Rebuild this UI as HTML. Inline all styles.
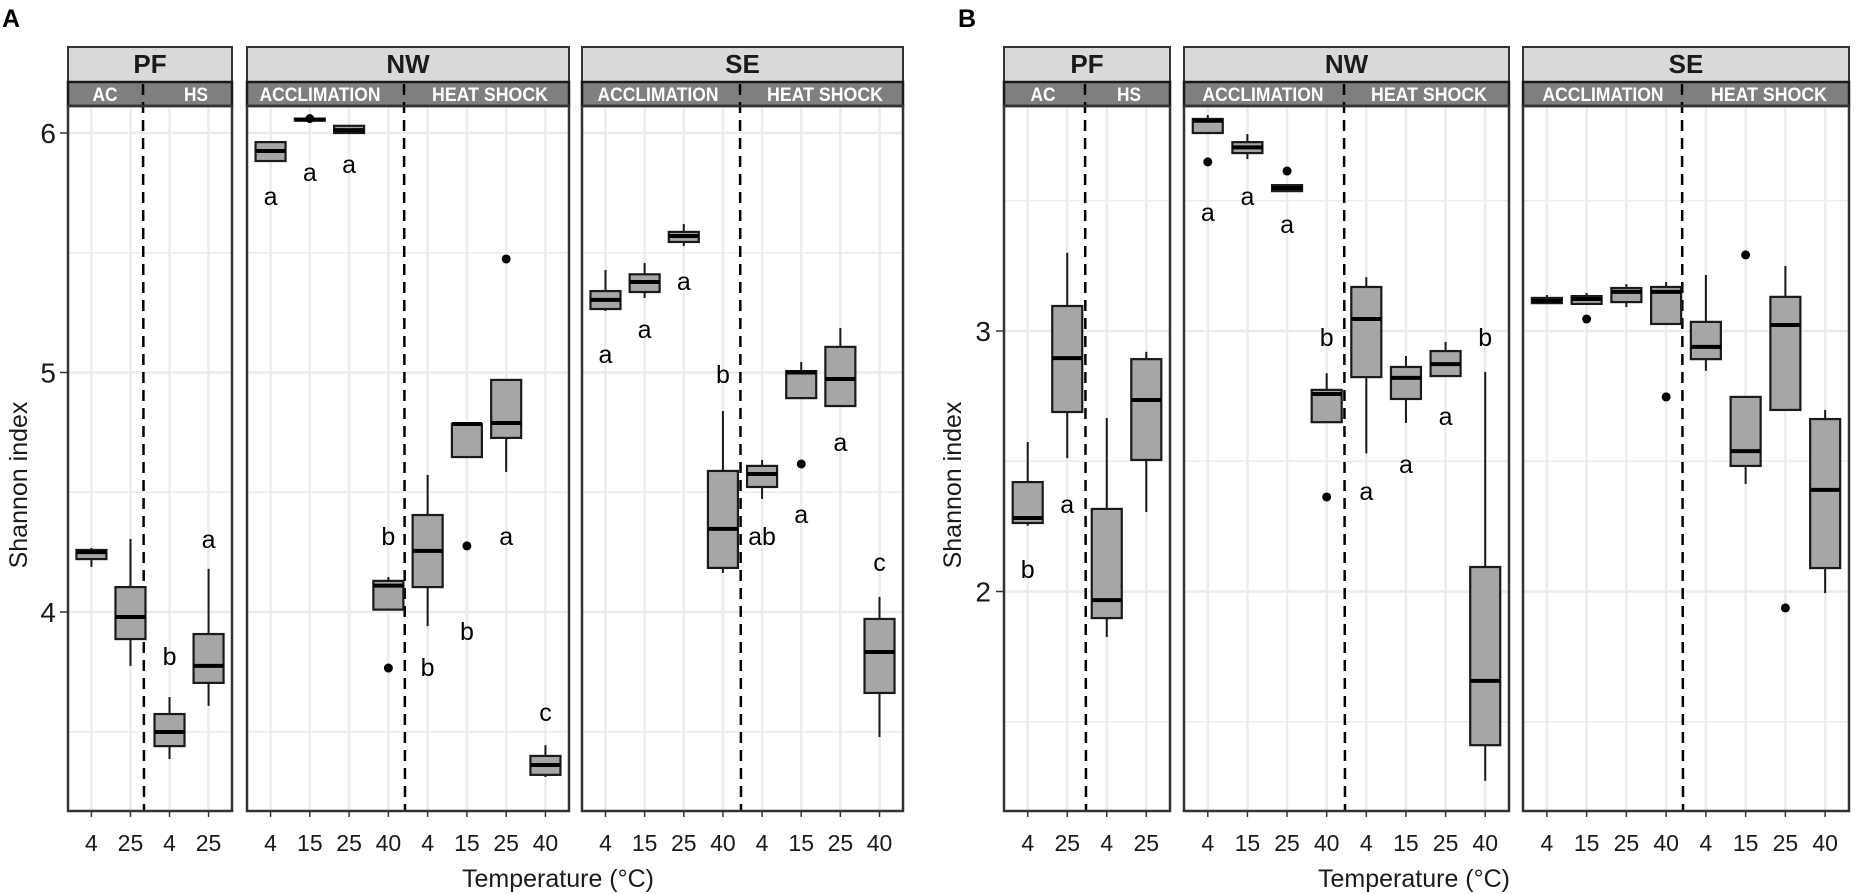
<!DOCTYPE html>
<html><head><meta charset="utf-8"><style>
html,body{margin:0;padding:0;background:#fff;}
svg{display:block;font-family:"Liberation Sans",sans-serif;}
</style></head><body>
<svg id="chart" width="1855" height="894" viewBox="0 0 1855 894" xmlns="http://www.w3.org/2000/svg"></svg>
<script>
// ---- data: each box stats = [whiskerLow, q1, median, q3, whiskerHigh]
const tempsPF = ["4","25","4","25"];
const temps8 = ["4","15","25","40","4","15","25","40"];
const aPF_stats = [[4.188,4.221,4.25,4.259,4.267],[3.775,3.887,3.979,4.104,4.305],[3.386,3.44,3.499,3.574,3.645],[3.608,3.704,3.775,3.908,4.18]];
const aPF_out = [[],[],[],[]];
const aPF_let = [null,null,["b",3.812],["a",4.30]];
const aNW_stats = [[5.883,5.883,5.925,5.962,5.962],[6.05,6.052,6.056,6.06,6.062],[6.0,6.0,6.012,6.03,6.03],[4.01,4.01,4.11,4.13,4.146],[3.941,4.104,4.255,4.405,4.572],[4.647,4.647,4.785,4.785,4.793],[4.585,4.727,4.789,4.969,4.969],[3.311,3.32,3.361,3.399,3.444]];
const aNW_out = [[],[6.06],[],[3.766],[],[4.276],[5.474],[]];
const aNW_let = [["a",5.733],["a",5.833],["a",5.866],["b",4.313],["b",3.766],["b",3.916],["a",4.313],["c",3.578]];
const aSE_stats = [[5.257,5.265,5.303,5.34,5.428],[5.311,5.336,5.378,5.41,5.457],[5.528,5.545,5.57,5.587,5.62],[4.163,4.184,4.347,4.589,4.839],[4.472,4.522,4.576,4.61,4.635],[4.893,4.893,5.0,5.006,5.044],[4.86,4.86,4.973,5.107,5.186],[3.478,3.662,3.833,3.971,4.063]];
const aSE_out = [[],[],[],[],[],[4.618],[],[]];
const aSE_let = [["a",5.073],["a",5.177],["a",5.378],["b",4.99],["ab",4.313],["a",4.405],["a",4.706],["c",4.205]];
const bPF_stats = [[2.253,2.263,2.282,2.42,2.574],[2.512,2.689,2.896,3.096,3.30],[1.825,1.898,1.967,2.317,2.666],[2.305,2.505,2.735,2.892,2.92]];
const bPF_out = [[],[],[],[]];
const bPF_let = [["b",2.083],["a",2.332],null,null];
const bNW_stats = [[3.76,3.76,3.807,3.814,3.829],[3.66,3.683,3.705,3.725,3.756],[3.537,3.537,3.549,3.56,3.56],[2.65,2.65,2.758,2.774,2.838],[2.53,2.823,3.046,3.169,3.207],[2.647,2.739,2.82,2.862,2.904],[2.827,2.827,2.873,2.923,2.958],[1.273,1.41,1.657,2.094,2.843]];
const bNW_out = [[3.649],[],[3.614],[2.363],[],[],[],[]];
const bNW_let = [["a",3.453],["a",3.514],["a",3.407],["b",2.973],["a",2.382],["a",2.486],["a",2.67],["b",2.973]];
const bSE_stats = [[3.107,3.107,3.115,3.127,3.138],[3.104,3.104,3.123,3.134,3.146],[3.092,3.111,3.15,3.165,3.18],[3.027,3.027,3.15,3.169,3.188],[2.847,2.892,2.939,3.035,3.215],[2.413,2.482,2.539,2.747,2.747],[2.697,2.697,3.023,3.131,3.25],[1.994,2.09,2.39,2.662,2.697]];
const bSE_out = [[],[3.046],[],[2.747],[],[3.292],[1.937],[]];
const bSE_let = [null,null,null,null,null,null,null,null];
const aTicks = [6,5,4];
const bTicks = [3,2];

const NS="http://www.w3.org/2000/svg";
const svg=document.getElementById('chart');
function el(tag,attrs,parent){const e=document.createElementNS(NS,tag);for(const k in attrs)e.setAttribute(k,attrs[k]);(parent||svg).appendChild(e);return e;}
function txt(s,attrs,parent){const e=el('text',attrs,parent);e.textContent=s;return e;}

const TOP=106, BOT=811;
const yA=v=>133+(6-v)*239.5;
const yB=v=>331+(3-v)*260.5;

function panel(cfg){
  const g=el('g',{});
  
  
  const {x0,x1,cats,y,minor,major,dash}=cfg;
  const n=cats.length, step=(x1-x0)/(n-1+1.2);
  const xc=i=>x0+step*(0.6+i);
  // grid
  minor.forEach(v=>{const l=el('line',{x1:x0,x2:x1,y1:y(v),y2:y(v),stroke:'#ebebeb','stroke-width':1.5},g);});
  major.forEach(v=>{const l=el('line',{x1:x0,x2:x1,y1:y(v),y2:y(v),stroke:'#ebebeb','stroke-width':2.5},g);});
  cats.forEach((c,i)=>{const l=el('line',{x1:xc(i),x2:xc(i),y1:TOP,y2:BOT,stroke:'#ebebeb','stroke-width':2.5},g);});
  // strips
  const s1=el('rect',{x:x0,y:47,width:x1-x0,height:35,fill:'#d9d9d9',stroke:'#333','stroke-width':2},g);
  
  const t1=txt(cfg.title,{x:(x0+x1)/2,y:73,'text-anchor':'middle','font-size':26,'font-weight':'bold',fill:'#1a1a1a'},g);
  
  const s2=el('rect',{x:x0,y:82,width:x1-x0,height:24,fill:'#7f7f7f',stroke:'#1a1a1a','stroke-width':2.5},g);
  
  cfg.sub.forEach(s=>{const t=txt(s[0],{x:s[1],y:101,'text-anchor':'middle','font-size':19,'font-weight':'bold',fill:'#fff',textLength:s[2],lengthAdjust:'spacingAndGlyphs'},g);});
  // dashed separator
  const d=el('line',{x1:dash,x2:dash+1,y1:84,y2:BOT,stroke:'#000','stroke-width':2.5,'stroke-dasharray':'11,7'},g);
  
  // boxes
  const bw=30;
  cfg.stats.forEach((s,i)=>{
    const [wl,q1,md,q3,wh]=s, x=xc(i);
    const bg=el('g',{},g);
    
    
    el('line',{x1:x,x2:x,y1:y(wh),y2:y(q3),stroke:'#1a1a1a','stroke-width':2},bg);
    el('line',{x1:x,x2:x,y1:y(q1),y2:y(wl),stroke:'#1a1a1a','stroke-width':2},bg);
    el('rect',{x:x-bw/2,y:y(q3),width:bw,height:Math.max(2,y(q1)-y(q3)),fill:'#a6a6a6',stroke:'#1a1a1a','stroke-width':2.2},bg);
    el('line',{x1:x-bw/2,x2:x+bw/2,y1:y(md),y2:y(md),stroke:'#000','stroke-width':4},bg);
    cfg.out[i].forEach(o=>{const c=el('circle',{cx:x,cy:y(o),r:4.5,fill:'#000'},g);});
    const L=cfg.let[i];
    if(L){const t=txt(L[0],{x:x,y:y(L[1])+8,'text-anchor':'middle','font-size':25,fill:'#000'},g);}
    // x tick
    el('line',{x1:x,x2:x,y1:BOT,y2:BOT+6,stroke:'#333','stroke-width':1.5},g);
    const tl=txt(cats[i],{x:x,y:851,'text-anchor':'middle','font-size':23,fill:'#1a1a1a'},g);
    
  });
  const fr=el('rect',{x:x0,y:106,width:x1-x0,height:BOT-106,fill:'none',stroke:'#333','stroke-width':2.5},g);
  
}

// Panel A
panel({name:'panel-a-pf',title:'PF',x0:68,x1:232,cats:tempsPF,y:yA,minor:[5.5,4.5,3.5],major:aTicks,dash:143,sub:[['AC',105,25],['HS',196,24]],stats:aPF_stats,out:aPF_out,let:aPF_let});
panel({name:'panel-a-nw',title:'NW',x0:247,x1:569,cats:temps8,y:yA,minor:[5.5,4.5,3.5],major:aTicks,dash:404,sub:[['ACCLIMATION',320,121],['HEAT SHOCK',490,116]],stats:aNW_stats,out:aNW_out,let:aNW_let});
panel({name:'panel-a-se',title:'SE',x0:582,x1:903,cats:temps8,y:yA,minor:[5.5,4.5,3.5],major:aTicks,dash:740,sub:[['ACCLIMATION',658,121],['HEAT SHOCK',825,116]],stats:aSE_stats,out:aSE_out,let:aSE_let});
// Panel B
panel({name:'panel-b-pf',title:'PF',x0:1004,x1:1170,cats:tempsPF,y:yB,minor:[3.5,2.5,1.5],major:bTicks,dash:1085,sub:[['AC',1043,25],['HS',1129,24]],stats:bPF_stats,out:bPF_out,let:bPF_let});
panel({name:'panel-b-nw',title:'NW',x0:1184,x1:1509,cats:temps8,y:yB,minor:[3.5,2.5,1.5],major:bTicks,dash:1344,sub:[['ACCLIMATION',1263,121],['HEAT SHOCK',1429,116]],stats:bNW_stats,out:bNW_out,let:bNW_let});
panel({name:'panel-b-se',title:'SE',x0:1523,x1:1849,cats:temps8,y:yB,minor:[3.5,2.5,1.5],major:bTicks,dash:1682,sub:[['ACCLIMATION',1603,121],['HEAT SHOCK',1769,116]],stats:bSE_stats,out:bSE_out,let:bSE_let});

// y axes
aTicks.forEach(v=>{el('line',{x1:60,x2:68,y1:yA(v),y2:yA(v),stroke:'#333','stroke-width':1.5});const t=txt(String(v),{x:56,y:yA(v)+10,'text-anchor':'end','font-size':28,fill:'#1a1a1a'});});
bTicks.forEach(v=>{el('line',{x1:996,x2:1004,y1:yB(v),y2:yB(v),stroke:'#333','stroke-width':1.5});const t=txt(String(v),{x:991,y:yB(v)+10,'text-anchor':'end','font-size':28,fill:'#1a1a1a'});});
</script>
<svg style="position:absolute;left:0;top:0" width="1855" height="894" xmlns="http://www.w3.org/2000/svg" font-family="Liberation Sans, sans-serif">
<text x="2" y="27" font-size="25" font-weight="bold">A</text>
<text x="958" y="27" font-size="25" font-weight="bold">B</text>
<text transform="translate(27,485) rotate(-90)" text-anchor="middle" font-size="25" fill="#1a1a1a">Shannon index</text>
<text transform="translate(961,485) rotate(-90)" text-anchor="middle" font-size="25" fill="#1a1a1a">Shannon index</text>
<text x="558" y="887" text-anchor="middle" font-size="25" fill="#1a1a1a">Temperature (°C)</text>
<text x="1414" y="887" text-anchor="middle" font-size="25" fill="#1a1a1a">Temperature (°C)</text>
</svg>
</body></html>
